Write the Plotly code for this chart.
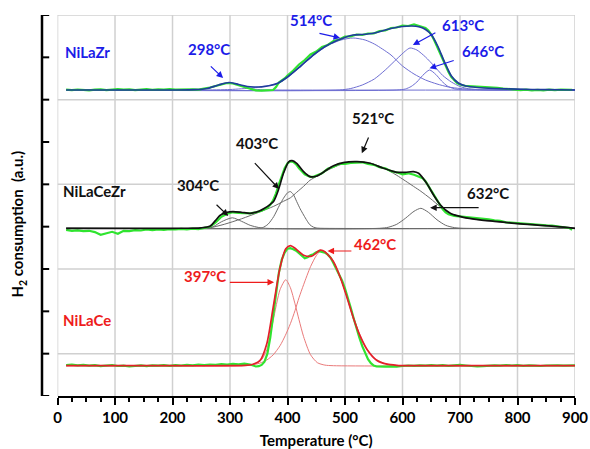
import plotly.graph_objects as go

# ---------------- data (heights above each sample's baseline, a.u.) ----------------
# vertical offsets used to stack the three TPR profiles
BASE_NILAZR = 306.0
BASE_NILACEZR = 167.7
BASE_NILACE = 30.3

# ---- NiLaZr ----
zr_exp_T = [15, 25, 35, 45, 55, 65, 75, 85, 95, 105, 115, 125, 135, 145, 155, 165, 175, 185, 195, 205,
            215, 225, 235, 245, 255, 265, 275, 285, 295, 305, 315, 325, 335, 345, 355, 365,
            370, 375, 380, 385, 390, 395, 400,
            410, 420, 430, 440, 450, 460, 470, 480, 490, 500, 510, 520, 530, 540, 550, 560, 570, 580,
            590, 600, 610, 620, 630, 640,
            645, 650, 655, 660, 665, 670, 675, 680, 685, 690, 695, 700, 705, 710, 715,
            725, 735, 745, 755, 765, 775, 785, 795, 805, 815, 825, 835, 845, 855, 865, 875, 885, 895]
zr_exp = [0.3, -0.2, 0.5, 0, -0.4, 0.3, 0.6, -0.1, 0.2, 0.8, 0.3, 0.6, -0.2, 0.4, 0.9, 0.2, 0.7, 0.3, 0.8, 0.4,
          0.6, 0.2, 0.7, 0.4, 1.2, 2.5, 4, 5.8, 7, 6.5, 5, 3, 1.2, -0.3, -0.6, -0.2,
          -0.4, 0, 3, 7.5, 9.5, 11.5, 14.5,
          19.5, 25.5, 30, 35.5, 38.5, 43, 45, 49, 50.5, 53.5, 53.5, 55.5, 55, 56.5, 56.5, 59, 59.5, 62,
          62.5, 64.5, 64, 65.5, 64, 62,
          59.5, 55.5, 50, 43.5, 37, 30.5, 24, 18, 13, 9.5, 7, 5.5, 4.5, 4, 3.8,
          3.5, 3.3, 2.8, 3, 2.2, 1.5, 0.8, 0.5, -0.2, 0.3, -0.4, 0.2, -0.3, 0.4, -0.1, 0.3, 0, 0.2]
zr_fit_T = [15, 100, 200, 240, 260, 280, 298, 315, 330, 342, 355, 370, 383, 400, 423, 446, 470, 493, 514,
            530, 551, 580, 600, 615, 630, 640, 650, 662, 673, 685, 697, 710, 730, 760, 800, 850, 900]
zr_fit = [0, 0, 0, 0.3, 1.5, 5, 7.5, 5.5, 3.5, 3, 3.2, 4.5, 6.8, 13, 24, 35.5, 45, 51, 55,
          55.5, 57, 61.5, 63.5, 64, 63, 60.5, 55.5, 43, 28, 14, 7, 4, 2.5, 1.5, 0.8, 0.3, 0]
zr_p298_T = [15, 220, 240, 255, 270, 285, 298, 311, 326, 341, 356, 375, 900]
zr_p298 = [0, 0, 0.2, 1, 3, 5.7, 7, 5.7, 3, 1, 0.2, 0, 0]
zr_p514_T = [15, 250, 300, 340, 383, 400, 423, 446, 470, 493, 514, 535, 551, 565, 580, 600, 620, 640,
             660, 680, 700, 720, 750, 780, 900]
zr_p514 = [0, 0, 0.5, 2.2, 6.5, 12.5, 23.5, 35, 44.5, 50, 52, 50, 46, 41, 35, 24, 16, 10,
           6, 3, 1.5, 0.7, 0.2, 0, 0]
zr_p613_T = [15, 490, 510, 530, 551, 570, 590, 605, 613, 625, 640, 655, 670, 685, 700, 715, 735, 760, 900]
zr_p613 = [0, 0, 1.5, 5, 11, 20, 31, 39, 42, 40, 33, 24, 14.5, 8, 3.5, 1.2, 0.3, 0, 0]
zr_p646_T = [15, 590, 605, 615, 625, 635, 647, 658, 668, 678, 690, 705, 720, 900]
zr_p646 = [0, 0, 1, 3.5, 8, 14.5, 20, 15.5, 9, 4, 1.2, 0.2, 0, 0]

# ---- NiLaCeZr ----
cz_exp_T = [15, 25, 35, 45, 55, 65, 75, 85, 95, 105, 115, 125, 135, 145, 155, 165, 175, 185, 195, 205,
            215, 225, 235, 245, 255,
            265, 275, 285, 295, 305, 315, 325, 335, 345, 355, 365,
            370, 375, 380, 385, 390, 395, 400, 405, 410, 415, 420, 425, 430, 435, 440, 445, 450,
            460, 470, 480, 490, 500, 510, 520, 530, 540, 550, 560, 570, 580, 590, 600, 610, 620, 630,
            635, 640, 645, 650, 655, 660, 665, 670, 675, 680,
            690, 700, 710, 720, 730, 740, 750, 760, 770, 780, 790, 800, 810, 820, 830, 840, 850, 860,
            870, 880, 890, 895]
cz_exp = [-1.5, -2.5, -2, -2.8, -2.5, -3.8, -6.5, -5, -3.5, -5.5, -2.5, -2.8, -1.8, -2.2, -1.2, -1.8, -1, -1.5,
          -0.8, -1.2, -0.5, -1, -0.3, -0.8, 0,
          1.5, 6, 11.5, 14.5, 16, 15.5, 15, 15, 16, 17.5, 20.5,
          23.5, 28, 35, 44, 53, 60, 65, 67, 66.5, 64, 60, 56.5, 54, 52.5, 51.5, 51.5, 52.5,
          55, 59.5, 61.5, 64.5, 64.5, 65.5, 65.5, 66, 64.5, 63.5, 61, 60, 57, 56, 54, 55, 53.5, 51.5,
          50, 47, 42.5, 38, 33, 28, 23.5, 19, 16, 14,
          12.5, 12, 11.5, 10.5, 10.5, 9.5, 9, 8, 7.5, 6, 5.5, 5, 4.5, 4.2, 3.5, 3.5, 3, 2.8,
          2.2, 1.5, 0.3, -1.5]
cz_fit_T = [15, 200, 250, 265, 275, 283, 295, 305, 320, 335, 350, 360, 370, 376, 384, 393, 402, 408, 416,
            428, 439, 451, 468, 480, 497, 521, 544, 567, 590, 605, 619, 628, 642, 654, 666, 683, 706,
            735, 760, 790, 811, 840, 869, 900]
cz_fit = [0, 0, 0.5, 2, 8, 13, 16, 16.7, 16, 15, 17, 20, 24, 27, 38, 55, 66.5, 67.7, 65,
          56.7, 51.7, 52.3, 58.3, 62.5, 65.7, 66.7, 65, 60, 56, 56, 56.7, 55, 45, 33.3, 23.3, 15, 11,
          8.5, 7, 5.2, 4.2, 3, 1.7, 0]
cz_p304_T = [15, 250, 262, 272, 285, 304, 320, 335, 350, 362, 900]
cz_p304 = [0, 0, 0.5, 2, 6.5, 10.5, 7, 3, 0.8, 0, 0]
cz_p403_T = [15, 345, 356, 366, 376, 386, 393, 400, 405, 410, 416, 422, 428, 434, 439, 445, 451, 460, 900]
cz_p403 = [0, 0, 0.5, 4, 11.7, 23, 30, 35.5, 36.7, 34, 26.7, 19.5, 13.3, 7.5, 3.5, 1.2, 0.3, 0, 0]
cz_p521_T = [15, 250, 265, 290, 320, 350, 376, 393, 405, 416, 428, 439, 451, 468, 480, 497, 521, 544,
             567, 590, 619, 632, 648, 666, 683, 706, 735, 760, 790, 811, 840, 869, 900]
cz_p521 = [0, 0, 0.5, 4, 9.5, 16, 22, 27, 30.5, 36, 42, 48, 52, 57.5, 61, 64.5, 66, 65,
           60.5, 53, 42, 37, 30, 21.5, 15, 11, 8.3, 7, 5.2, 4.2, 3, 1.7, 0]
cz_p632_T = [15, 560, 575, 590, 605, 620, 632, 645, 660, 675, 690, 705, 900]
cz_p632 = [0, 0, 1, 4, 10, 17, 20, 16, 8.5, 3, 0.7, 0, 0]

# ---- NiLaCe ----
ce_exp_T = [15, 25, 35, 45, 55, 65, 75, 85, 95, 105, 115, 125, 135, 145, 155, 165, 175, 185, 195, 205,
            215, 225, 235, 245, 255, 265, 275, 285, 295, 305, 315, 325, 335,
            340, 345, 350, 355, 360, 365, 370, 375, 380, 385, 390, 395, 400, 405, 410, 415, 420, 425,
            430, 435, 440, 445, 450, 455, 460, 465, 470, 475, 480, 485, 490, 495, 500, 505, 510, 515,
            520, 525, 530, 535, 540, 545, 550, 555, 560,
            570, 580, 590, 600, 610, 620, 630, 640, 650, 660, 670, 680, 690, 700, 710, 720, 730, 740,
            750, 760, 770, 780, 790, 800, 810, 820, 830, 840, 850, 860, 870, 880, 890, 900]
ce_exp = [0.5, 1, 0.3, 0.8, 0, 0.6, -0.5, 0.2, 0.7, -0.3, 0.1, -0.8, -0.2, 0.4, -0.4, 0.3, 0, 0.6, -0.2, 0.5,
          0.2, 0.9, 0.4, 1, 0.6, 1.2, 0.9, 1.5, 1.1, 1.8, 1.4, 2, 1.2,
          0.3, -0.8, -0.5, 0.8, 4, 12, 28, 48, 72, 93, 106, 113, 117, 117.5, 116.5, 115, 112.5, 109.5,
          107.5, 108.5, 110.5, 111.5, 113.5, 114.5, 114, 113, 111, 108, 102.5, 97, 92, 85, 77, 68, 58, 47.5,
          37, 28, 19.5, 12.5, 6.5, 2.5, 0.2, -0.8, -1,
          -1, -0.6, -0.9, -0.3, 0.2, -0.2, 0.4, 0, 0.5, 0.1, 0.6, -0.1, 0.3, 0.8, 0.2, -0.4, -0.8, -0.5,
          0.1, 0.4, 0, 0.7, 0.2, 0.5, -0.2, 0.3, 0, -0.3, 0.2, 0.6, 0.3, 0.1, 0.5, 0.4]
ce_fit_T = [15, 100, 200, 300, 327, 340, 352, 364, 375, 387, 397, 405, 413, 420, 428, 442, 457, 465, 480,
            492, 503, 515, 526, 538, 555, 573, 590, 610, 900]
ce_fit = [0, 0, 0, 0, 0.3, 1.5, 5, 22, 58, 98, 117, 120, 117.5, 114, 110.5, 109.5, 115.5, 114, 104,
          88, 69, 47, 30, 16.5, 5.5, 1.5, 0.4, 0, 0]
ce_p397_T = [15, 330, 345, 355, 364, 375, 387, 397, 405, 413, 420, 428, 440, 452, 465, 480, 900]
ce_p397 = [0, 0.3, 2, 6, 16, 45, 76, 86, 78, 62, 46, 29, 11, 3, 0.6, 0, 0]
ce_p462_T = [15, 300, 330, 345, 352, 364, 375, 387, 396, 405, 413, 420, 428, 440, 450, 457, 465, 475, 485,
             495, 505, 515, 526, 538, 550, 565, 580, 600, 900]
ce_p462 = [0, 0, 0.5, 1.5, 2.6, 5.7, 10.8, 20, 30, 42, 55, 68, 81, 99, 110, 114.5, 114, 108, 97,
           83, 66, 48, 31, 17, 8, 3, 0.8, 0, 0]

# peak labels: (text, label T, label y, arrow tail T, tail y, arrow head T, head y)
zr_labels = [("298°C", 264, 347.5, 264, 331, 288, 318),
             ("514°C", 441, 376, 453, 363, 491.6, 358),
             ("613°C", 705.6, 371, 659.8, 364, 618, 351),
             ("646°C", 739.5, 345, 691.7, 336, 647, 327.7)]
cz_labels = [("304°C", 244.5, 211, 274, 192.7, 297, 180),
             ("403°C", 347, 253, 340.7, 234.3, 385.4, 207),
             ("521°C", 549, 278, 542, 260, 529.3, 242.7),
             ("632°C", 748, 203.5, 735, 188.3, 648, 188.3)]
ce_labels = [("397°C", 256.6, 120, 297.2, 113.7, 376.7, 113.7),
             ("462°C", 552.5, 152, 513.7, 145, 469.5, 145)]
sample_names = [("NiLaZr", 52.2, 344.5), ("NiLaCeZr", 64.7, 205), ("NiLaCe", 51.3, 76)]

x_ticks = [0, 100, 200, 300, 400, 500, 600, 700, 800, 900]

# ---------------- styles ----------------
FONT = "Lato"
GREEN = "#2fe42f"
BLUE_TXT = "#1c1ce8"
BLUE_FIT = "#1f3d9c"
BLUE_CMP = "#6f6fd2"
BLACK_FIT = "#111111"
GRAY_CMP = "#6a6a6a"
RED_TXT = "#ee1c1c"
RED_FIT = "#e3202a"
RED_CMP = "#ea7a7a"
GRID = "#d0d0d0"
Y_MAX = 381.0
Y_TICK_STEP = Y_MAX / 9          # spine tick spacing; grid every second tick

fig = go.Figure()


def add_line(T, h, base, color, width, spline=True):
    fig.add_trace(go.Scatter(
        x=T, y=[v + base for v in h], mode="lines",
        line=dict(color=color, width=width, shape="spline" if spline else "linear", smoothing=0.7),
        hoverinfo="skip", showlegend=False))


# NiLaZr
for T, h in [(zr_p298_T, zr_p298), (zr_p514_T, zr_p514), (zr_p613_T, zr_p613), (zr_p646_T, zr_p646)]:
    add_line(T, h, BASE_NILAZR, BLUE_CMP, 1)
add_line(zr_exp_T, zr_exp, BASE_NILAZR, GREEN, 2.2, spline=False)
add_line(zr_fit_T, zr_fit, BASE_NILAZR, BLUE_FIT, 1.7)

# NiLaCeZr
for T, h in [(cz_p304_T, cz_p304), (cz_p403_T, cz_p403), (cz_p521_T, cz_p521), (cz_p632_T, cz_p632)]:
    add_line(T, h, BASE_NILACEZR, GRAY_CMP, 1)
add_line(cz_exp_T, cz_exp, BASE_NILACEZR, GREEN, 2.2, spline=False)
add_line(cz_fit_T, cz_fit, BASE_NILACEZR, BLACK_FIT, 1.7)

# NiLaCe
for T, h in [(ce_p397_T, ce_p397), (ce_p462_T, ce_p462)]:
    add_line(T, h, BASE_NILACE, RED_CMP, 1)
add_line(ce_exp_T, ce_exp, BASE_NILACE, GREEN, 2.2, spline=False)
add_line(ce_fit_T, ce_fit, BASE_NILACE, RED_FIT, 1.7)

annotations = []
for labels, col in [(zr_labels, BLUE_TXT), (cz_labels, "#111111"), (ce_labels, RED_TXT)]:
    for txt, lx, ly, tx, ty, hx, hy in labels:
        annotations.append(dict(x=lx, y=ly, text=txt, showarrow=False,
                                font=dict(family=FONT, size=15, color=col, weight="bold")))
        annotations.append(dict(x=hx, y=hy, ax=tx, ay=ty, axref="x", ayref="y", text="",
                                showarrow=True, arrowhead=2, arrowsize=1.1, arrowwidth=1.2,
                                arrowcolor=col))
for (name, lx, ly), col in zip(sample_names, [BLUE_TXT, "#111111", RED_TXT]):
    annotations.append(dict(x=lx, y=ly, text=name, showarrow=False,
                            font=dict(family=FONT, size=15, color=col, weight="bold")))
annotations.append(dict(xref="paper", yref="paper", x=-0.045, y=0.45, xanchor="center",
                        yanchor="middle",
                        text="H<sub>2</sub> consumption  (a.u.)", textangle=-90, showarrow=False,
                        font=dict(family=FONT, size=15, color="black", weight="bold")))

shapes = []
# light grid, drawn between the plot background and the traces
for t in x_ticks:
    shapes.append(dict(type="line", xref="x", yref="y", x0=t, x1=t, y0=0, y1=Y_MAX, layer="between",
                       line=dict(color=GRID, width=1.5)))
for i in range(1, 10, 2):
    shapes.append(dict(type="line", xref="x", yref="y", x0=0, x1=900, y0=i * Y_TICK_STEP,
                       y1=i * Y_TICK_STEP, layer="between", line=dict(color=GRID, width=1.5)))
# detached vertical spine (left of the plot area) with inward ticks
shapes.append(dict(type="line", xref="paper", yref="y", x0=0, x1=0, y0=0, y1=Y_MAX,
                   line=dict(color="black", width=2.5)))
for i in range(10):
    shapes.append(dict(type="line", xref="paper", yref="y", x0=0, x1=0.0135,
                       y0=i * Y_TICK_STEP, y1=i * Y_TICK_STEP, line=dict(color="black", width=2)))

fig.update_layout(
    width=590, height=449,
    margin=dict(l=42, r=15, t=15, b=53, autoexpand=False),
    paper_bgcolor="white", plot_bgcolor="rgba(0,0,0,0)",
    showlegend=False,
    annotations=annotations,
    shapes=shapes,
    xaxis=dict(range=[0, 900], domain=[0.0291, 1], tickvals=x_ticks,
               ticktext=[str(t) for t in x_ticks], automargin=False,
               showline=True, linecolor="black", linewidth=2,
               ticks="outside", ticklen=7, tickwidth=2, tickcolor="black",
               minor=dict(ticks="outside", dtick=25, tick0=0, ticklen=4, tickwidth=1.5,
                          tickcolor="black", showgrid=False),
               tickfont=dict(family=FONT, size=15, color="black", weight="bold"),
               showgrid=False, zeroline=False,
               title=dict(text="Temperature (°C)", standoff=12,
                          font=dict(family=FONT, size=15, color="black", weight="bold"))),
    yaxis=dict(range=[0, Y_MAX], showticklabels=False, ticks="", showline=False, automargin=False,
               showgrid=False, zeroline=False),
)

# the browser's default 8px body margin would shift the figure; remove it
fig.write_html("out.html", config={"displayModeBar": False},
               post_script="document.body.style.margin='0';"
                           "document.body.style.overflow='hidden';")
